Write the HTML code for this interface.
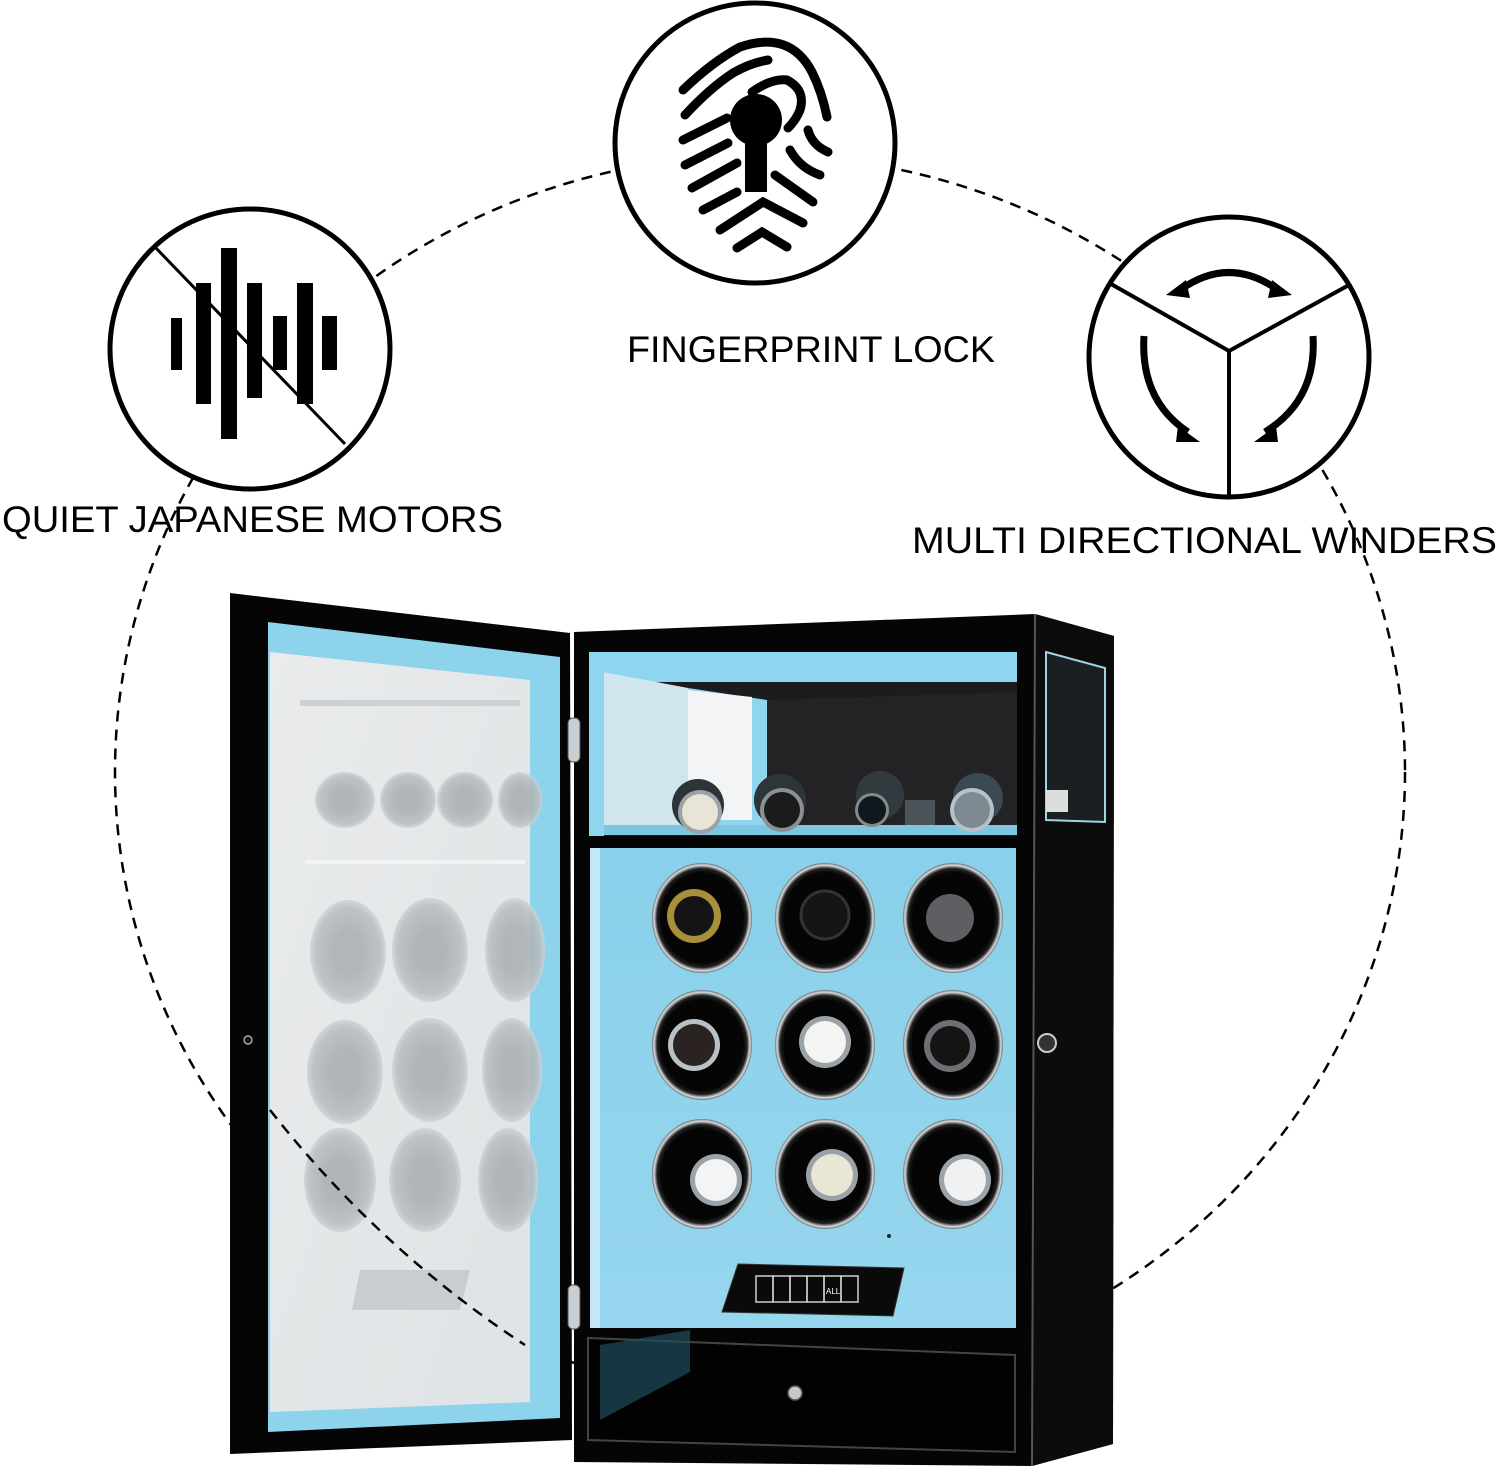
<!DOCTYPE html>
<html><head><meta charset="utf-8"><style>
html,body{margin:0;padding:0;background:#fff;}
svg{display:block;}
text{font-family:"Liberation Sans",sans-serif;fill:#000;}
</style></head><body>
<svg width="1500" height="1473" viewBox="0 0 1500 1473" xmlns="http://www.w3.org/2000/svg">
<defs>
<linearGradient id="blue" x1="0" y1="0" x2="0" y2="1"><stop offset="0" stop-color="#8ad0ea"/><stop offset="1" stop-color="#96d6ee"/></linearGradient>
<radialGradient id="rim" cx="0.5" cy="0.5" r="0.5"><stop offset="0.82" stop-color="#050505"/><stop offset="0.9" stop-color="#222"/><stop offset="0.96" stop-color="#d8dde0"/><stop offset="1" stop-color="#6a7074"/></radialGradient>
<radialGradient id="ghost" cx="0.5" cy="0.5" r="0.5"><stop offset="0.4" stop-color="#a9adb0"/><stop offset="0.85" stop-color="#b9bdc0"/><stop offset="1" stop-color="#cfd3d5"/></radialGradient>
<linearGradient id="glass" x1="0" y1="0" x2="1" y2="1"><stop offset="0" stop-color="#e9ebec"/><stop offset="1" stop-color="#dfe3e5"/></linearGradient>
</defs>

<ellipse cx="760" cy="772" rx="645" ry="617" fill="none" stroke="#000" stroke-width="2.5" stroke-dasharray="11 8"/>

<circle cx="755" cy="143" r="140" fill="#fff" stroke="#000" stroke-width="5"/>
<circle cx="250" cy="349" r="140" fill="#fff" stroke="#000" stroke-width="5"/>
<circle cx="1229" cy="357" r="140" fill="#fff" stroke="#000" stroke-width="5"/>

<g fill="none" stroke="#000" stroke-width="9" stroke-linecap="round">
<path d="M683 90 Q712 62 740 47 Q790 30 812 72 Q822 92 827 117"/>
<path d="M685 115 Q710 88 733 73 Q750 63 768 60"/>
<path d="M752 92 Q772 78 787 80 Q806 90 800 110 Q796 120 788 128"/>
<path d="M683 140 L727 118"/><path d="M685 165 L728 143"/><path d="M692 188 L737 163"/><path d="M703 210 L737 192"/>
<path d="M808 130 Q812 145 828 152"/><path d="M790 150 Q800 168 820 175"/><path d="M775 175 L813 202"/>
<path d="M720 230 L763 202 L803 223"/><path d="M737 248 L762 232 L787 247"/>
</g>
<circle cx="756" cy="120" r="26" fill="#000"/>
<rect x="745" y="125" width="22" height="67" fill="#000"/>

<g fill="#000">
<rect x="171" y="318" width="11" height="52"/><rect x="196" y="283" width="15" height="121"/>
<rect x="221" y="248" width="16" height="191"/><rect x="247" y="283" width="15" height="115"/>
<rect x="273" y="316" width="14" height="54"/><rect x="297" y="283" width="16" height="121"/>
<rect x="322" y="316" width="15" height="54"/>
</g>
<line x1="153" y1="245" x2="345" y2="444" stroke="#000" stroke-width="3"/>

<g fill="none" stroke="#000" stroke-width="4">
<path d="M1111 284 L1229 351 L1349 285"/><path d="M1229 351 L1229 497"/>
</g>
<g fill="none" stroke="#000" stroke-width="7">
<path d="M1180 290 Q1229 255 1278 290"/>
<path d="M1144 336 Q1140 400 1188 432"/>
<path d="M1313 336 Q1317 400 1265 432"/>
</g>
<g fill="#000">
<polygon points="1166,295 1186,280 1190,298"/><polygon points="1292,295 1272,280 1268,298"/>
<polygon points="1178,426 1200,442 1176,442"/><polygon points="1276,426 1254,442 1278,442"/>
</g>

<text x="627" y="362" font-size="37" textLength="368" lengthAdjust="spacingAndGlyphs">FINGERPRINT LOCK</text>
<text x="2" y="532" font-size="37" textLength="501" lengthAdjust="spacingAndGlyphs">QUIET JAPANESE MOTORS</text>
<text x="912" y="553" font-size="37" textLength="585" lengthAdjust="spacingAndGlyphs">MULTI DIRECTIONAL WINDERS</text>

<polygon points="574,632 1035,614 1114,636 1113,1444 1032,1466 574,1462" fill="#050505"/>
<polygon points="1035,614 1114,636 1113,1444 1032,1466" fill="#0c0c0c"/>
<line x1="1035" y1="614" x2="1032" y2="1466" stroke="#555" stroke-width="2"/>
<polygon points="1046,652 1105,668 1105,822 1046,820" fill="#1a1f22" stroke="#9fd4e6" stroke-width="2"/>
<rect x="1046" y="790" width="22" height="22" fill="#ddd"/>

<rect x="589" y="652" width="428" height="184" fill="#1c1c1e"/>
<rect x="589" y="652" width="428" height="30" fill="#8ed6ef"/>
<polygon points="603,672 688,688 688,830 603,830" fill="#cfe6ee"/>
<polygon points="688,688 767,700 767,830 688,830" fill="#8fd5ee"/>
<polygon points="688,690 752,697 752,820 688,820" fill="#f2f4f5"/>
<polygon points="767,700 1017,692 1017,830 767,830" fill="#232326"/>
<rect x="589" y="825" width="428" height="10" fill="#7cc6e0"/>
<rect x="589" y="652" width="15" height="184" fill="#8ed6ef"/>
<g>
<circle cx="698" cy="805" r="26" fill="#2c3438"/><circle cx="700" cy="812" r="22" fill="#9aa3a8"/><circle cx="700" cy="812" r="18" fill="#e8e4d6"/>
<circle cx="780" cy="800" r="26" fill="#2d3538"/><circle cx="782" cy="810" r="22" fill="#8a9095"/><circle cx="782" cy="810" r="18" fill="#1b1b1c"/>
<circle cx="880" cy="795" r="24" fill="#303a3f"/><circle cx="872" cy="810" r="17" fill="#888"/><circle cx="872" cy="810" r="14" fill="#101820"/>
<rect x="905" y="800" width="30" height="25" fill="#4a5458"/>
<circle cx="978" cy="798" r="25" fill="#3a4a52"/><circle cx="972" cy="810" r="22" fill="#b7c2c8"/><circle cx="972" cy="810" r="18" fill="#7e8a92"/>
</g>

<rect x="590" y="848" width="426" height="480" fill="url(#blue)"/>
<rect x="590" y="848" width="10" height="480" fill="#c2e8f5"/>
<g>
<ellipse cx="702" cy="918" rx="50" ry="55" fill="url(#rim)"/>
<ellipse cx="825" cy="918" rx="50" ry="55" fill="url(#rim)"/>
<ellipse cx="953" cy="918" rx="50" ry="55" fill="url(#rim)"/>
<ellipse cx="702" cy="1045" rx="50" ry="55" fill="url(#rim)"/>
<ellipse cx="825" cy="1045" rx="50" ry="55" fill="url(#rim)"/>
<ellipse cx="953" cy="1045" rx="50" ry="55" fill="url(#rim)"/>
<ellipse cx="702" cy="1174" rx="50" ry="55" fill="url(#rim)"/>
<ellipse cx="825" cy="1174" rx="50" ry="55" fill="url(#rim)"/>
<ellipse cx="953" cy="1174" rx="50" ry="55" fill="url(#rim)"/>
<circle cx="694" cy="916" r="27" fill="#a88f3a"/><circle cx="694" cy="916" r="20" fill="#141414"/>
<circle cx="825" cy="915" r="24" fill="#151515" stroke="#333" stroke-width="3"/>
<circle cx="950" cy="918" r="24" fill="#5d5f63"/>
<circle cx="694" cy="1045" r="26" fill="#b9c0c6"/><circle cx="694" cy="1045" r="21" fill="#2b2222"/>
<circle cx="825" cy="1042" r="26" fill="#9aa2a8"/><circle cx="825" cy="1042" r="21" fill="#f4f4f2"/>
<circle cx="950" cy="1046" r="26" fill="#6c7074"/><circle cx="950" cy="1046" r="20" fill="#141414"/>
<circle cx="716" cy="1180" r="26" fill="#9aa3a9"/><circle cx="716" cy="1180" r="21" fill="#f3f4f5"/>
<circle cx="832" cy="1175" r="26" fill="#9aa3a9"/><circle cx="832" cy="1175" r="21" fill="#e8e6d4"/>
<circle cx="965" cy="1180" r="26" fill="#9aa3a9"/><circle cx="965" cy="1180" r="21" fill="#f1f1f1"/>
</g>
<circle cx="889" cy="1236" r="2" fill="#223"/>
<polygon points="738,1264 904,1268 893,1316 722,1312" fill="#0a0a0a" stroke="#333" stroke-width="1"/>
<g stroke="#ccc" stroke-width="1.5" fill="none">
<rect x="756" y="1276" width="17" height="26"/><rect x="773" y="1276" width="17" height="26"/><rect x="790" y="1276" width="17" height="26"/>
<rect x="807" y="1276" width="17" height="26"/><rect x="824" y="1276" width="17" height="26"/><rect x="841" y="1276" width="17" height="26"/>
</g>
<text x="826" y="1294" font-size="8" style="fill:#fff">ALL</text>

<polygon points="588,1338 1015,1355 1015,1452 588,1440" fill="#020202" stroke="#444" stroke-width="2"/>
<polygon points="600,1345 690,1330 690,1372 600,1420" fill="#1f4e5e" opacity="0.7"/>
<circle cx="795" cy="1393" r="7" fill="#c8c8c8" stroke="#555" stroke-width="1.5"/>

<polygon points="230,593 570,633 572,1440 230,1454" fill="#050505"/>
<polygon points="268,622 560,657 560,1418 268,1432" fill="#8ed3ec"/>
<polygon points="270,652 530,680 530,1402 270,1412" fill="url(#glass)"/>
<g opacity="0.85">
<rect x="300" y="700" width="220" height="6" fill="#c9cdd0"/>
<rect x="305" y="860" width="220" height="4" fill="#f4f6f7"/>
<ellipse cx="348" cy="952" rx="38" ry="52" fill="url(#ghost)"/><ellipse cx="430" cy="950" rx="38" ry="52" fill="url(#ghost)"/><ellipse cx="515" cy="950" rx="30" ry="52" fill="url(#ghost)"/>
<ellipse cx="345" cy="1072" rx="38" ry="52" fill="url(#ghost)"/><ellipse cx="430" cy="1070" rx="38" ry="52" fill="url(#ghost)"/><ellipse cx="512" cy="1070" rx="30" ry="52" fill="url(#ghost)"/>
<ellipse cx="340" cy="1180" rx="36" ry="52" fill="url(#ghost)"/><ellipse cx="425" cy="1180" rx="36" ry="52" fill="url(#ghost)"/><ellipse cx="508" cy="1180" rx="30" ry="52" fill="url(#ghost)"/>
<ellipse cx="345" cy="800" rx="30" ry="28" fill="url(#ghost)"/><ellipse cx="408" cy="800" rx="28" ry="28" fill="url(#ghost)"/><ellipse cx="465" cy="800" rx="28" ry="28" fill="url(#ghost)"/><ellipse cx="520" cy="800" rx="22" ry="28" fill="url(#ghost)"/>
<polygon points="360,1270 470,1270 460,1310 352,1310" fill="#c4c8cb"/>
</g>
<path d="M270 1110 Q380 1250 525 1345" fill="none" stroke="#000" stroke-width="2.5" stroke-dasharray="11 8"/>
<rect x="568" y="718" width="12" height="44" rx="5" fill="#c9cfd3" stroke="#555"/>
<rect x="568" y="1285" width="12" height="44" rx="5" fill="#c9cfd3" stroke="#555"/>
<circle cx="248" cy="1040" r="4" fill="none" stroke="#aaa" stroke-width="1.5"/>
<circle cx="1047" cy="1043" r="9" fill="#333" stroke="#ccc" stroke-width="2"/>
</svg>
</body></html>
